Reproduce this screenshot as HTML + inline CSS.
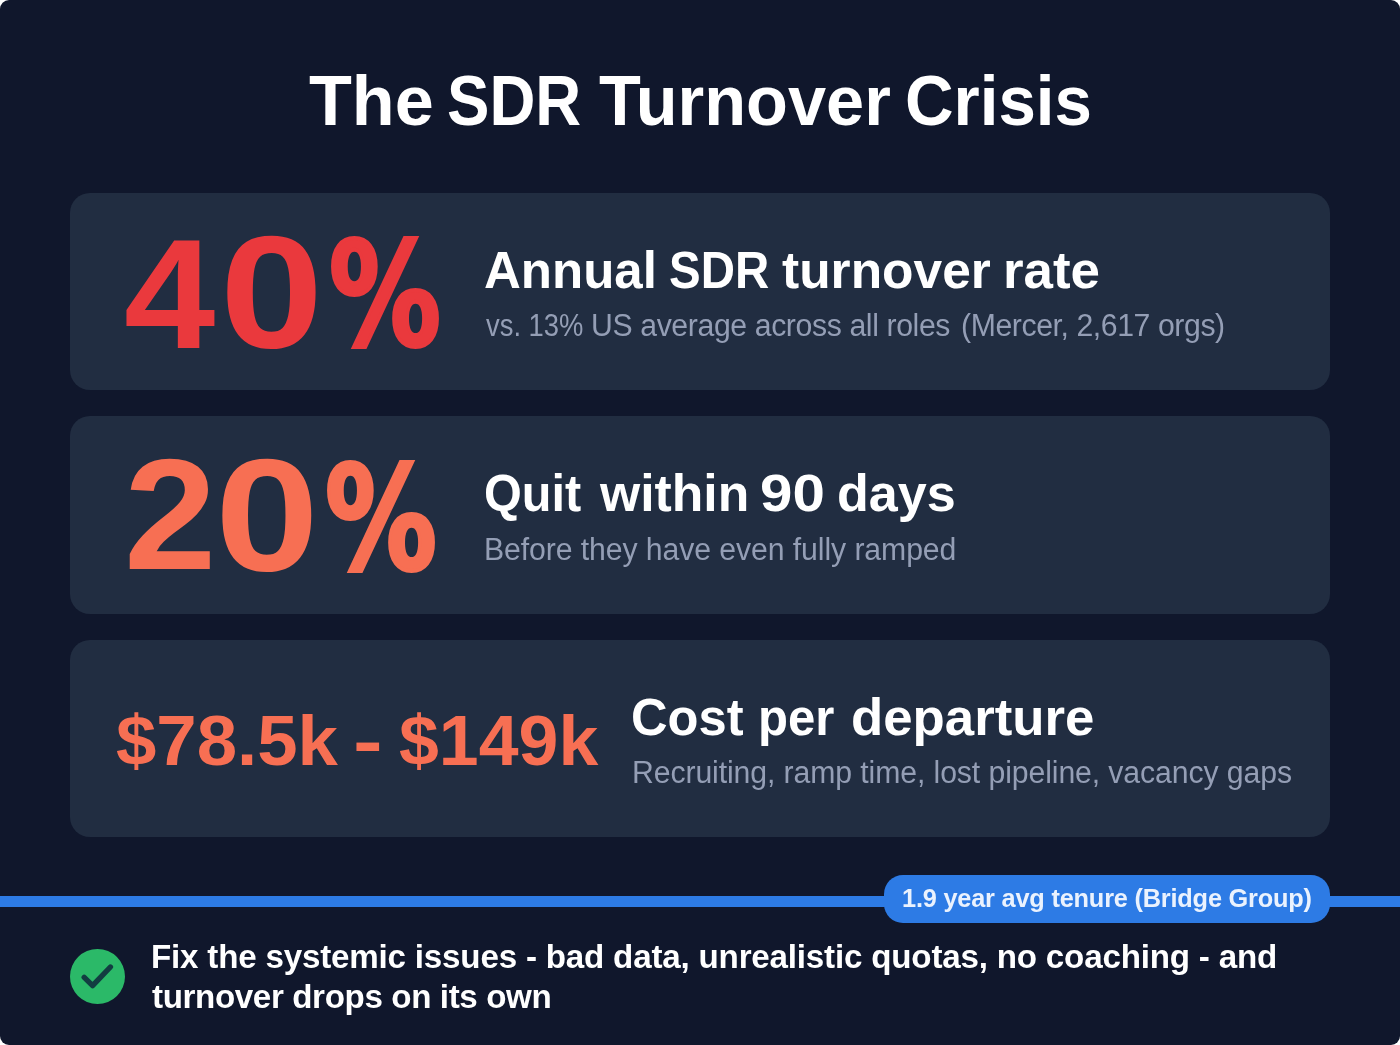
<!DOCTYPE html>
<html lang="en">
<head>
<meta charset="utf-8">
<title>The SDR Turnover Crisis</title>
<style>
*{box-sizing:border-box;margin:0;padding:0}
h1,h2,p{font-size:inherit;font-weight:inherit}
html,body{width:1400px;height:1045px;background:#fff;overflow:hidden}
body{font-family:"Liberation Sans",sans-serif;position:relative}
.frame{position:absolute;left:0;top:0;width:1400px;height:1045px;background:#10172c;border-radius:9px;overflow:hidden}
.g{position:absolute;left:0;top:0;width:1400px;height:0;font-size:0;line-height:0;white-space:nowrap}
.t{display:inline-block;vertical-align:top;position:relative;width:0;height:0;white-space:nowrap;transform-origin:0 0}
.w{color:#fff;font-weight:700}.s{color:#949eb5;font-weight:400}.r{color:#ea393d;font-weight:700}.o{color:#f76f53;font-weight:700}
.card{position:absolute;left:70px;width:1259.8px;height:197.4px;background:#212d41;border-radius:20px}
.c1{top:192.8px}.c2{top:416.3px}.c3{top:639.8px}
.bar{position:absolute;left:0;top:895.8px;width:1400px;height:11.6px;background:#2d7be5}
.pill{position:absolute;left:884px;top:875.2px;width:445.6px;height:47.6px;border-radius:19px;background:#2d7be5}
.tag{color:#eaf2fe;font-weight:700}
.check{position:absolute;left:70px;top:948.9px;width:55px;height:55px}
</style>
</head>
<body>
<main class="frame">
<div class="card c1"></div>
<div class="card c2"></div>
<div class="card c3"></div>
<header><h1 class="g w">
<span class="t" style="left:308.6px;top:60.07px;font-size:71px;line-height:81.65px;transform:scaleX(0.9881);">The</span>
<span class="t" style="left:447.2px;top:60.07px;font-size:71px;line-height:81.65px;transform:scaleX(0.8957);">SDR</span>
<span class="t" style="left:598.6px;top:60.07px;font-size:71px;line-height:81.65px;transform:scaleX(0.9649);">Turnover</span>
<span class="t" style="left:905.0px;top:60.07px;font-size:71px;line-height:81.65px;transform:scaleX(0.9475);">Crisis</span>
</h1></header>
<section>
<div class="g r">
<span class="t" style="left:124.1px;top:203.66px;font-size:156.64px;line-height:180.14px;transform:scaleX(1.0479);">4</span><span class="t" style="left:219.8px;top:201.14px;font-size:159.37px;line-height:183.28px;transform:scaleX(1.1644);">0</span><span class="t" style="left:329.0px;top:212.21px;font-size:145.19px;line-height:166.97px;font-family:'DejaVu Sans',sans-serif;-webkit-text-stroke:4px #ea393d;transform:scaleX(0.7693);">%</span>
</div>
<h2 class="g w">
<span class="t" style="left:484.3px;top:239.92px;font-size:52.5px;line-height:60.37px;transform:scaleX(0.9715);">Annual</span>
<span class="t" style="left:668.5px;top:239.92px;font-size:52.5px;line-height:60.37px;transform:scaleX(0.9038);">SDR</span>
<span class="t" style="left:782.3px;top:239.92px;font-size:52.5px;line-height:60.37px;transform:scaleX(0.9809);">turnover</span>
<span class="t" style="left:1003.1px;top:239.92px;font-size:52.5px;line-height:60.37px;transform:scaleX(1.0075);">rate</span>
</h2>
<p class="g s">
<span class="t" style="left:486.0px;top:308.33px;font-size:31px;line-height:35.65px;transform:scaleX(0.8835);">vs. 13%</span>
<span class="t" style="left:591.2px;top:308.33px;font-size:31px;line-height:35.65px;letter-spacing:-0.399px;transform:scaleX(0.975);">US average across all roles</span>
<span class="t" style="left:960.6px;top:308.33px;font-size:31px;line-height:35.65px;letter-spacing:-0.43px;transform:scaleX(0.975);">(Mercer, 2,617 orgs)</span>
</p>
</section>
<section>
<div class="g o">
<span class="t" style="left:123.5px;top:424.45px;font-size:158.27px;line-height:182.01px;transform:scaleX(1.0499);">2</span><span class="t" style="left:215.3px;top:424.44px;font-size:159.37px;line-height:183.28px;transform:scaleX(1.1717);">0</span><span class="t" style="left:325.0px;top:435.51px;font-size:145.19px;line-height:166.97px;font-family:'DejaVu Sans',sans-serif;-webkit-text-stroke:4px #f76f53;transform:scaleX(0.7693);">%</span>
</div>
<h2 class="g w">
<span class="t" style="left:484.0px;top:463.42px;font-size:52.5px;line-height:60.37px;transform:scaleX(0.9254);">Quit</span>
<span class="t" style="left:599.5px;top:463.42px;font-size:52.5px;line-height:60.37px;transform:scaleX(0.984);">within</span>
<span class="t" style="left:760.0px;top:463.42px;font-size:52.5px;line-height:60.37px;transform:scaleX(1.1098);">90</span>
<span class="t" style="left:837.4px;top:463.42px;font-size:52.5px;line-height:60.37px;transform:scaleX(0.992);">days</span>
</h2>
<p class="g s">
<span class="t" style="left:484.3px;top:531.83px;font-size:31px;line-height:35.65px;letter-spacing:-0.096px;transform:scaleX(0.975);">Before they have even fully ramped</span>
</p>
</section>
<section>
<div class="g o">
<span class="t" style="left:115.7px;top:700.37px;font-size:71px;line-height:81.65px;transform:scaleX(1.0222);">$78.5k</span>
<span class="t" style="left:352.9px;top:700.37px;font-size:71px;line-height:81.65px;transform:scaleX(1.2545);">-</span>
<span class="t" style="left:399.0px;top:700.37px;font-size:71px;line-height:81.65px;transform:scaleX(1.0092);">$149k</span>
</div>
<h2 class="g w">
<span class="t" style="left:631.3px;top:686.92px;font-size:52.5px;line-height:60.37px;transform:scaleX(0.9647);">Cost</span>
<span class="t" style="left:757.6px;top:686.92px;font-size:52.5px;line-height:60.37px;transform:scaleX(0.9347);">per</span>
<span class="t" style="left:850.7px;top:686.92px;font-size:52.5px;line-height:60.37px;transform:scaleX(1.0051);">departure</span>
</h2>
<p class="g s">
<span class="t" style="left:632.0px;top:755.23px;font-size:31px;line-height:35.65px;letter-spacing:-0.11px;transform:scaleX(0.975);">Recruiting, ramp time, lost pipeline, vacancy gaps</span>
</p>
</section>
<div class="bar"></div>
<div class="pill"></div>
<div class="g tag">
<span class="t" style="left:902.0px;top:884.24px;font-size:26px;line-height:29.9px;letter-spacing:-0.216px;transform:scaleX(0.975);">1.9 year avg tenure (Bridge Group)</span>
</div>
<svg class="check" viewBox="0 0 55 55"><circle cx="27.5" cy="27.5" r="27.5" fill="#2bb968"/><path d="M14.2 28.4 L22.6 36.6 L40.4 18" fill="none" stroke="#123d41" stroke-width="5.4" stroke-linecap="round" stroke-linejoin="round"/></svg>
<footer><p class="g w">
<span class="t" style="left:151.1px;top:936.57px;font-size:34px;line-height:39.1px;letter-spacing:-0.2px;transform:scaleX(0.975);">Fix the systemic issues - bad data, unrealistic quotas, no coaching - and</span>
<span class="t" style="left:152.4px;top:976.97px;font-size:34px;line-height:39.1px;letter-spacing:-0.39px;transform:scaleX(0.975);">turnover drops on its own</span>
</p></footer>
</main>
</body>
</html>
